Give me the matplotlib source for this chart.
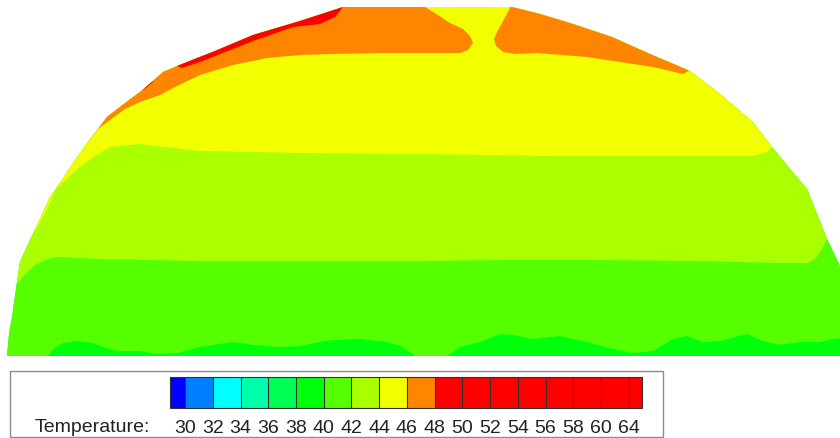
import matplotlib
matplotlib.use('Agg')
import matplotlib.pyplot as plt
import numpy as np
from matplotlib.colors import ListedColormap, BoundaryNorm
from matplotlib.patches import Polygon, Rectangle
import matplotlib.colorbar as mcolorbar

plt.rcParams['font.family'] = ['Liberation Sans', 'DejaVu Sans']

# legend scale: band edges and colours
levels = [30, 32, 34, 36, 38, 40, 42, 44, 46, 48, 50, 52, 54, 56, 58, 60, 64]
band_colors = ['#0080ff', '#00ffff', '#00ffaa', '#00ff55', '#00ff0a', '#55ff00',
               '#aaff00', '#f2ff00', '#ff8400', '#ff0000', '#ff0000', '#ff0000',
               '#ff0000', '#ff0000', '#ff0000', '#ff0000']
under_color = '#0000ff'
over_color = '#ff0000'

# outline of the section (x across, y measured downwards from the top)
outline_x = [7, 9, 12, 17, 20, 30, 40, 50, 62, 75, 88, 98, 107, 125, 140, 153, 163, 182,
             215, 253, 300, 343, 512, 540, 570, 612, 650, 690, 720, 753, 772, 790, 807,
             817, 827, 840, 850, 850]
outline_y = [357, 335, 318, 283, 263, 241, 220, 198, 181, 161, 143, 130, 118, 104, 93, 82,
             73, 65, 52, 36, 22, 8, 8, 15, 24, 38, 55, 72, 95, 123, 148, 170, 190, 215,
             240, 267, 290, 357]

# isotherms (lower edge of the region warmer than the given temperature)
iso40_x = [0, 45, 48, 53, 63, 77, 93, 103, 117, 140, 157, 177, 200, 213, 233, 253, 267,
           280, 300, 320, 333, 360, 387, 400, 413, 420, 440, 447, 460, 480, 500, 513,
           533, 560, 587, 613, 633, 653, 673, 687, 703, 720, 747, 763, 780, 800, 820,
           833, 850]
iso40_y = [365, 365, 357, 350, 344, 342, 344, 348, 352, 352, 355, 354, 348, 346, 343,
           346, 347, 348, 347, 343, 341, 340, 343, 347, 355, 365, 365, 357, 348, 343,
           335, 336, 340, 337, 343, 350, 354, 352, 340, 337, 343, 342, 335, 342, 346,
           343, 343, 340, 338]

iso42_x = [0, 12, 17, 25, 35, 45, 55, 100, 200, 300, 420, 500, 600, 700, 780, 808, 816,
           823, 828, 850]
iso42_y = [300, 300, 285, 275, 266, 261, 258, 260, 262, 262, 262, 261, 261, 262, 264,
           264, 259, 248, 238, 205]

iso44_x = [0, 30, 43, 50, 56, 77, 95, 110, 140, 200, 300, 420, 553, 687, 753, 767, 773,
           790, 850]
iso44_y = [240, 240, 218, 204, 190, 170, 157, 148, 145, 152, 154, 155, 157, 157, 157,
           153, 147, 135, 135]

iso46_x = [0, 40, 88, 98, 110, 125, 140, 160, 177, 200, 233, 267, 300, 333, 380, 420,
           460, 468, 473, 470, 463, 450, 438, 425, 423, 512, 510, 503, 497, 494, 496,
           503, 515, 537, 587, 620, 653, 683, 692, 850]
iso46_y = [190, 190, 143, 130, 121, 110, 103, 96, 87, 76, 66, 59, 56, 55, 54, 54,
           54, 51, 44, 37, 30, 24, 16, 8, -20, -20, 9, 22, 33, 40, 47,
           53, 55, 54, 58, 63, 68, 75, 70, 70]

iso48_x = [100, 140, 146, 152, 160, 175, 182, 200, 233, 253, 293, 320, 335, 340, 345]
iso48_y = [100, 92, 89, 84, 72, 66, 69, 63, 50, 42, 28, 25, 18, 12, 5]

cmap = ListedColormap(band_colors)
cmap.set_under(under_color)
cmap.set_over(over_color)
norm = BoundaryNorm(levels, cmap.N)

fig = plt.figure(figsize=(8.4, 4.39), dpi=100)

# temperature section
ax = fig.add_axes([0, 1 - 357 / 439, 1, 357 / 439])
ax.set_xlim(0, 840)
ax.set_ylim(357, 0)
ax.axis('off')

domain = Polygon(np.column_stack([outline_x, outline_y]), closed=True,
                 facecolor=cmap(norm(39)), edgecolor='none')
ax.add_patch(domain)

isotherms = [(41, iso40_x, iso40_y), (43, iso42_x, iso42_y), (45, iso44_x, iso44_y),
             (47, iso46_x, iso46_y), (49, iso48_x, iso48_y)]
for temp, xs, ys in isotherms:
    verts = list(zip(xs, ys)) + [(xs[-1], -60), (xs[0], -60)]
    band = Polygon(verts, closed=True, facecolor=cmap(norm(temp)), edgecolor='none')
    ax.add_patch(band)
    band.set_clip_path(domain)

# legend frame
fig.patches.append(Rectangle((10 / 840, 1 - 438 / 439), 653 / 840, 66 / 439,
                             transform=fig.transFigure, fill=False,
                             edgecolor='#8c8c8c', linewidth=1.0))

cax = fig.add_axes([170 / 840, 1 - 409 / 439, 472 / 840, 31 / 439])
cb = mcolorbar.ColorbarBase(cax, cmap=cmap, norm=norm, boundaries=[28] + levels + [66],
                            extend='both', extendrect=True, extendfrac=(0.034, 0.03),
                            spacing='uniform', orientation='horizontal',
                            ticks=levels, drawedges=True)
cb.outline.set_edgecolor('#333333')
cb.outline.set_linewidth(0.8)
cb.dividers.set_color('#333333')
cb.dividers.set_linewidth(0.8)
cb.ax.tick_params(length=0, pad=8, labelsize=14, labelcolor='#222222')
cb.ax.set_xticklabels([str(v) for v in levels])

fig.text(150 / 840, 1 - 428 / 439, 'Temperature:', ha='right', va='center',
         fontsize=14, color='#222222')

fig.savefig('out.png', dpi=100)
